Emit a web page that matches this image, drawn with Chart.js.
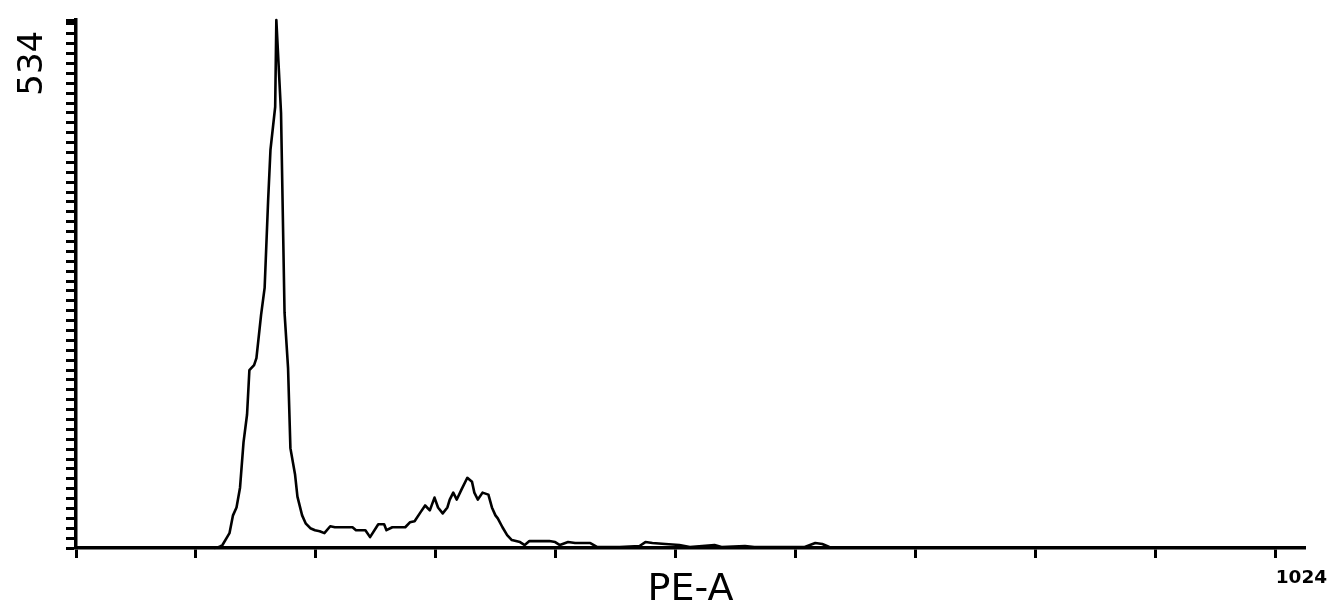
<!DOCTYPE html>
<html>
<head>
<meta charset="utf-8">
<script src="https://cdn.jsdelivr.net/npm/chart.js@4/dist/chart.umd.min.js"></script>
<style>
  html, body { margin: 0; padding: 0; background: #fff; }
  #wrap { width: 1332px; height: 605px; position: relative; }
</style>
</head>
<body>
<div id="wrap"><canvas id="histChart"></canvas></div>
<script>
// PE-A histogram, channel 0..1024, counts
const channels = [118, 122, 125, 129, 131, 134, 137, 140, 143, 146, 148, 152, 154, 158, 161, 164, 166, 170, 171, 175,
  178, 181, 183, 187, 189, 193, 196, 200, 204, 208, 212, 217, 221, 230, 236, 239, 247, 251, 258, 263,
  265, 270, 281, 285, 289, 294, 298, 302, 306, 309, 313, 317, 319, 322, 325, 329, 334, 338, 340, 343,
  347, 352, 355, 358, 360, 364, 368, 372, 379, 383, 387, 404, 409, 413, 420, 426, 439, 445, 464, 481,
  486, 492, 503, 515, 524, 545, 551, 571, 579, 622, 631, 637, 643, 1023];
const counts = [0, 1, 3, 11, 15, 33, 41, 61, 107, 135, 180, 185, 192, 236, 263, 352, 403, 446, 534, 440,
  238, 182, 101, 74, 52, 33, 25, 20, 18, 17, 15, 22, 21, 21, 21, 18, 18, 11, 24, 24,
  18, 21, 21, 26, 27, 36, 43, 38, 51, 41, 35, 41, 49, 56, 49, 59, 71, 67, 56, 49,
  56, 54, 41, 33, 30, 21, 13, 8, 6, 3, 7, 7, 6, 3, 6, 5, 5, 1, 1, 2,
  6, 5, 4, 3, 1, 3, 1, 2, 1, 1, 5, 4, 1, 0];

const xTickValues = [0, 102.4, 204.8, 307.2, 409.6, 512, 614.4, 716.8, 819.2, 921.6, 1024];
const xTickLabels = ["", "", "", "", "", "", "", "", "", "", "1024"];
const yMax = 534;
const yTickValues = [];
for (let v = 0; v <= 530; v += 10) yTickValues.push(v);
yTickValues.push(yMax);

const points = channels.map((c, i) => ({ x: c, y: counts[i] }));

new Chart(document.getElementById("histChart").getContext("2d"), {
  type: "line",
  data: {
    datasets: [
      {
        data: points,
        borderColor: "#000",
        borderWidth: 2.6,
        borderJoinStyle: "round",
        pointRadius: 0,
        tension: 0,
        fill: false,
        clip: false,
      },
    ],
  },
  options: {
    responsive: true,
    maintainAspectRatio: false,
    animation: false,
    layout: { padding: { top: 20, right: 27, left: 0, bottom: 0 } },
    plugins: {
      legend: { display: false },
      tooltip: { enabled: false },
    },
    scales: {
      x: {
        type: "linear",
        min: 0,
        max: 1049,
        afterBuildTicks: (s) => { s.ticks = xTickValues.map((v) => ({ value: v })); },
        afterFit: (s) => { s.height = 57; s.paddingRight = 0; s.paddingLeft = 0; },
        border: { color: "#000", width: 3.5 },
        grid: { drawOnChartArea: false, tickLength: 10, tickWidth: 3, tickColor: "#000" },
        ticks: {
          autoSkip: false,
          maxRotation: 0,
          align: "start",
          padding: 9,
          color: "#000",
          font: { family: "DejaVu Sans", size: 18.5, weight: "bold" },
          callback: (v, i) => xTickLabels[i],
        },
        title: {
          display: true,
          text: "PE-A",
          color: "#000",
          font: { family: "DejaVu Sans", size: 38, lineHeight: 0.8 },
          padding: { top: 0, bottom: 0 },
        },
      },
      y: {
        min: 0,
        max: yMax,
        afterBuildTicks: (s) => { s.ticks = yTickValues.map((v) => ({ value: v })); },
        afterFit: (s) => { s.width = 76; },
        border: { color: "#000", width: 3.5 },
        grid: { drawOnChartArea: false, tickLength: 10, tickWidth: 3, tickColor: "#000" },
        ticks: { autoSkip: false, callback: () => "" },
        title: {
          display: true,
          text: "534 ",
          align: "end",
          color: "#000",
          font: { family: "DejaVu Sans", size: 34, lineHeight: 1 },
          padding: { top: 16, bottom: 0 },
        },
      },
    },
  },
});
</script>
</body>
</html>
